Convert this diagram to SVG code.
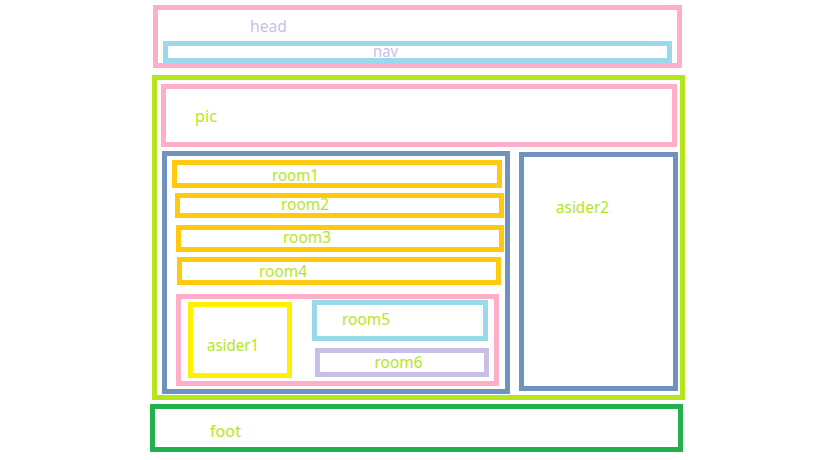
<svg xmlns="http://www.w3.org/2000/svg" width="819" height="460" viewBox="0 0 819 460">
<style>
rect{fill:none;stroke-width:5}
text{font-family:"Noto Sans","Open Sans","DejaVu Sans",sans-serif;font-size:15.5px;fill:#b5e61d}
.pink{stroke:#ffaec9}
.lblue{stroke:#99d9ea}
.green{stroke:#b5e61d}
.blue{stroke:#7092be}
.orange{stroke:#ffc90e}
.yellow{stroke:#fff200}
.lav{stroke:#c8bfe7}
.dgreen{stroke:#22b14c}
.lt{fill:#c8bfe7}
</style>
<rect x="0" y="0" width="819" height="460" fill="#ffffff" stroke="none"/>
<g id="head"><rect class="pink" x="155.5" y="7.5" width="524" height="58"/><text class="lt" x="250" y="32" textLength="37" lengthAdjust="spacingAndGlyphs">head</text></g>
<g id="nav"><rect class="lblue" x="165.5" y="43.5" width="504" height="17"/><text class="lt" x="373" y="57" textLength="25" lengthAdjust="spacingAndGlyphs">nav</text></g>
<g id="main"><rect class="green" x="154.5" y="77.5" width="528" height="320"/></g>
<g id="pic"><rect class="pink" x="163.5" y="86.5" width="511" height="58"/><text x="195" y="122" textLength="22" lengthAdjust="spacingAndGlyphs">pic</text></g>
<g id="left"><rect class="blue" x="164.5" y="153.5" width="343" height="238"/></g>
<g id="asider2"><rect class="blue" x="521.5" y="154.5" width="154" height="234"/><text x="556" y="213" textLength="53" lengthAdjust="spacingAndGlyphs">asider2</text></g>
<g id="room1"><rect class="orange" x="174.5" y="162.5" width="325" height="23"/><text x="272" y="181" textLength="47" lengthAdjust="spacingAndGlyphs">room1</text></g>
<g id="room2"><rect class="orange" x="177.5" y="195.5" width="324" height="20"/><text x="281" y="210" textLength="48" lengthAdjust="spacingAndGlyphs">room2</text></g>
<g id="room3"><rect class="orange" x="178.5" y="227.5" width="323" height="22"/><text x="283" y="243" textLength="48" lengthAdjust="spacingAndGlyphs">room3</text></g>
<g id="room4"><rect class="orange" x="179.5" y="259.5" width="319" height="23"/><text x="259" y="277" textLength="48" lengthAdjust="spacingAndGlyphs">room4</text></g>
<g id="inner"><rect class="pink" x="178.5" y="296.5" width="318" height="87"/></g>
<g id="asider1"><rect class="yellow" x="190.5" y="304.5" width="99" height="71"/><text x="207" y="351" textLength="52" lengthAdjust="spacingAndGlyphs">asider1</text></g>
<g id="room5"><rect class="lblue" x="314.5" y="302.5" width="171" height="36"/><text x="342" y="325" textLength="48" lengthAdjust="spacingAndGlyphs">room5</text></g>
<g id="room6"><rect class="lav" x="317.5" y="350.5" width="169" height="24"/><text x="374.5" y="368" textLength="48" lengthAdjust="spacingAndGlyphs">room6</text></g>
<g id="foot"><rect class="dgreen" x="152.5" y="406.5" width="528" height="43"/><text x="210" y="437" textLength="31" lengthAdjust="spacingAndGlyphs">foot</text></g>
<g id="connectors"/>
</svg>
